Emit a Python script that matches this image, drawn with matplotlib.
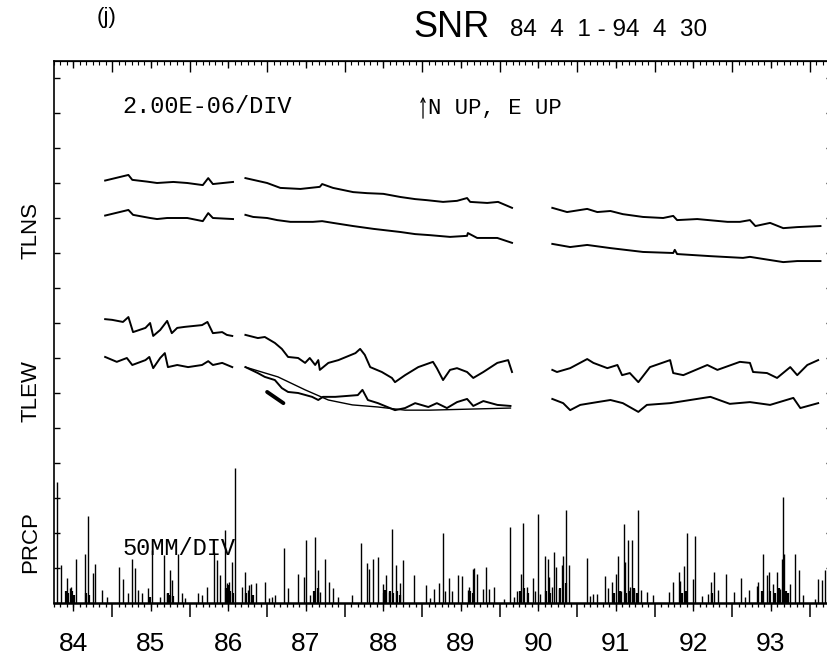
import numpy as np
import matplotlib
matplotlib.use("Agg")
import matplotlib.pyplot as plt
from matplotlib.ticker import MultipleLocator

plt.rcParams['font.family'] = ['Liberation Sans', 'DejaVu Sans']

GAP = float("nan")

# time in decimal years, tilt in plot divisions (1 div = 2.00E-06), rain in mm
tlns1_t = [1984.91, 1985.21, 1985.26, 1985.45, 1985.58, 1985.79, 1985.97, 1986.17, 1986.24, 1986.30, 1986.43, 1986.56, GAP,
           1986.72, 1986.82, 1987.00, 1987.17, 1987.43, 1987.68, 1987.71, 1987.85, 1988.11, 1988.29, 1988.50, 1988.72,
           1988.91, 1989.06, 1989.27, 1989.45, 1989.58, 1989.62, 1989.84, 1989.98, 1990.16, GAP,
           1990.68, 1990.87, 1991.13, 1991.26, 1991.43, 1991.59, 1991.85, 1992.11, 1992.24, 1992.29, 1992.55, 1992.94,
           1993.10, 1993.23, 1993.30, 1993.49, 1993.66, 1993.84, 1994.14]
tlns1_v = [12.07, 12.23, 12.09, 12.04, 12.00, 12.03, 12.00, 11.94, 12.14, 11.97, 12.00, 12.03, GAP,
           12.14, 12.09, 12.00, 11.86, 11.83, 11.89, 11.97, 11.86, 11.74, 11.71, 11.69, 11.60,
           11.54, 11.51, 11.46, 11.49, 11.57, 11.46, 11.43, 11.46, 11.29, GAP,
           11.29, 11.17, 11.26, 11.17, 11.20, 11.11, 11.03, 11.00, 11.06, 10.94, 10.97, 10.89,
           10.89, 10.94, 10.77, 10.86, 10.71, 10.74, 10.77]

tlns2_t = [1984.91, 1985.21, 1985.27, 1985.49, 1985.58, 1985.71, 1985.97, 1986.17, 1986.24, 1986.30, 1986.56, GAP,
           1986.72, 1986.82, 1987.00, 1987.13, 1987.30, 1987.59, 1987.71, 1987.85, 1988.11, 1988.37, 1988.72, 1988.91,
           1989.10, 1989.36, 1989.58, 1989.59, 1989.71, 1989.97, 1990.16, GAP,
           1990.68, 1990.91, 1991.13, 1991.43, 1991.85, 1992.24, 1992.26, 1992.29, 1992.72, 1993.14, 1993.23, 1993.40,
           1993.66, 1993.84, 1994.14]
tlns2_v = [11.07, 11.23, 11.09, 11.00, 10.97, 11.00, 11.00, 10.91, 11.14, 11.00, 10.97, GAP,
           11.09, 11.03, 11.00, 10.94, 10.89, 10.89, 10.91, 10.86, 10.77, 10.69, 10.60, 10.54,
           10.51, 10.46, 10.49, 10.57, 10.43, 10.43, 10.29, GAP,
           10.26, 10.17, 10.23, 10.14, 10.03, 10.00, 10.09, 9.97, 9.91, 9.86, 9.89, 9.83,
           9.74, 9.77, 9.77]

tlew1_t = [1984.91, 1985.00, 1985.14, 1985.21, 1985.27, 1985.43, 1985.49, 1985.53, 1985.62, 1985.71, 1985.77, 1985.84,
           1985.94, 1986.16, 1986.23, 1986.30, 1986.42, 1986.48, 1986.55, GAP,
           1986.72, 1986.88, 1986.97, 1987.10, 1987.19, 1987.27, 1987.40, 1987.49, 1987.55, 1987.62, 1987.66, 1987.68,
           1987.79, 1987.92, 1988.14, 1988.20, 1988.26, 1988.33, 1988.48, 1988.61, 1988.65, 1988.78, 1988.95, 1989.14,
           1989.19, 1989.27, 1989.36, 1989.45, 1989.58, 1989.66, 1989.79, 1989.97, 1990.11, 1990.16, GAP,
           1990.68, 1990.74, 1990.91, 1991.13, 1991.21, 1991.39, 1991.52, 1991.58, 1991.68, 1991.79, 1991.94, 1992.20,
           1992.24, 1992.37, 1992.68, 1992.81, 1993.10, 1993.23, 1993.27, 1993.45, 1993.58, 1993.75, 1993.84, 1993.97,
           1994.11]
tlew1_v = [8.11, 8.09, 8.03, 8.17, 7.74, 7.86, 8.00, 7.63, 7.80, 8.06, 7.71, 7.86,
           7.89, 7.94, 8.03, 7.71, 7.74, 7.66, 7.63, GAP,
           7.66, 7.57, 7.60, 7.43, 7.26, 7.03, 7.00, 6.86, 7.00, 6.80, 6.94, 6.66,
           6.86, 6.94, 7.14, 7.26, 7.09, 6.74, 6.60, 6.43, 6.31, 6.51, 6.74, 6.89,
           6.71, 6.37, 6.66, 6.71, 6.60, 6.43, 6.60, 6.86, 6.94, 6.60, GAP,
           6.66, 6.60, 6.71, 6.97, 6.86, 6.71, 6.80, 6.51, 6.57, 6.31, 6.74, 6.94,
           6.57, 6.51, 6.80, 6.66, 6.89, 6.86, 6.60, 6.57, 6.43, 6.74, 6.51, 6.80,
           6.94]

tlew2_t = [1984.91, 1985.06, 1985.19, 1985.26, 1985.43, 1985.48, 1985.53, 1985.62, 1985.68, 1985.72, 1985.84, 1985.98,
           1986.16, 1986.24, 1986.30, 1986.42, 1986.55, GAP,
           1986.72, 1986.88, 1986.97, 1987.10, 1987.19, 1987.27, 1987.40, 1987.58, 1987.66, 1987.72, 1987.88, 1988.17,
           1988.23, 1988.30, 1988.43, 1988.65, 1988.78, 1988.91, 1989.08, 1989.19, 1989.32, 1989.45, 1989.58, 1989.66,
           1989.79, 1989.97, 1990.14, GAP,
           1990.68, 1990.82, 1990.91, 1991.04, 1991.26, 1991.43, 1991.59, 1991.79, 1991.90, 1992.20, 1992.46, 1992.72,
           1992.97, 1993.23, 1993.49, 1993.79, 1993.88, 1994.11]
tlew2_v = [7.03, 6.89, 7.00, 6.80, 6.94, 7.03, 6.71, 7.00, 7.14, 6.74, 6.80, 6.74,
           6.80, 6.91, 6.80, 6.86, 6.74, GAP,
           6.74, 6.57, 6.46, 6.37, 6.14, 6.03, 6.00, 5.89, 5.80, 5.89, 5.89, 5.94,
           6.09, 5.80, 5.71, 5.51, 5.57, 5.71, 5.60, 5.71, 5.57, 5.74, 5.83, 5.63,
           5.77, 5.66, 5.63, GAP,
           5.83, 5.71, 5.51, 5.66, 5.74, 5.80, 5.71, 5.46, 5.66, 5.71, 5.80, 5.89,
           5.69, 5.74, 5.66, 5.86, 5.57, 5.71]

# smooth trend drawn over the EW record 86-90, and the short heavy stroke
ewfit_t = [1986.72, 1987.14, 1987.49, 1987.79, 1988.10, 1988.43, 1988.78, 1989.10, 1990.14]
ewfit_v = [6.74, 6.46, 6.09, 5.80, 5.66, 5.60, 5.51, 5.51, 5.57]
ewdash_t = [1987.00, 1987.21]
ewdash_v = [6.03, 5.71]

prcp_t = [1984.29, 1984.34, 1984.42, 1984.45, 1984.47, 1984.54, 1984.65, 1984.69, 1984.75, 1984.78, 1984.87, 1984.93,
          1985.09, 1985.14, 1985.20, 1985.25, 1985.30, 1985.34, 1985.39, 1985.46, 1985.51, 1985.62, 1985.67, 1985.71,
          1985.75, 1985.77, 1985.85, 1985.90, 1985.94, 1986.11, 1986.16, 1986.22, 1986.31, 1986.35, 1986.39, 1986.45,
          1986.48, 1986.51, 1986.55, 1986.59, 1986.67, 1986.71, 1986.75, 1986.77, 1986.79, 1986.85, 1986.97, 1987.03,
          1987.06, 1987.10, 1987.22, 1987.27, 1987.40, 1987.47, 1987.50, 1987.55, 1987.62, 1987.65, 1987.68, 1987.75,
          1987.80, 1987.85, 1987.91, 1988.09, 1988.21, 1988.29, 1988.32, 1988.36, 1988.43, 1988.49, 1988.54, 1988.57,
          1988.61, 1988.66, 1988.71, 1988.75, 1988.89, 1989.05, 1989.10, 1989.15, 1989.22, 1989.27, 1989.30, 1989.35,
          1989.39, 1989.46, 1989.51, 1989.59, 1989.61, 1989.65, 1989.67, 1989.71, 1989.78, 1989.82, 1989.86, 1989.93,
          1990.06, 1990.13, 1990.18, 1990.23, 1990.28, 1990.30, 1990.35, 1990.43, 1990.45, 1990.49, 1990.52, 1990.59,
          1990.62, 1990.64, 1990.68, 1990.70, 1990.73, 1990.76, 1990.80, 1990.82, 1990.85, 1990.90, 1991.13, 1991.17,
          1991.21, 1991.25, 1991.36, 1991.40, 1991.45, 1991.50, 1991.53, 1991.57, 1991.60, 1991.62, 1991.65, 1991.68,
          1991.71, 1991.73, 1991.78, 1991.83, 1991.90, 1991.98, 1992.19, 1992.24, 1992.31, 1992.33, 1992.38, 1992.42,
          1992.49, 1992.52, 1992.61, 1992.69, 1992.73, 1992.76, 1992.82, 1992.92, 1993.03, 1993.12, 1993.17, 1993.22,
          1993.32, 1993.34, 1993.40, 1993.45, 1993.47, 1993.53, 1993.58, 1993.62, 1993.64, 1993.66, 1993.67, 1993.75,
          1993.81, 1993.86, 1993.91, 1994.07, 1994.11, 1994.16, 1994.20]
prcp_mm = [173, 54, 36, 21, 23, 63, 70, 124, 43, 56, 19, 9,
           51, 34, 14, 63, 50, 19, 14, 21, 76, 9, 69, 14,
           47, 33, 70, 14, 7, 14, 11, 23, 73, 61, 40, 104,
           29, 30, 59, 193, 23, 44, 19, 26, 27, 29, 30, 7,
           9, 11, 79, 21, 41, 37, 90, 11, 94, 47, 16, 63,
           30, 21, 9, 11, 86, 57, 49, 63, 66, 27, 40, 16,
           106, 54, 29, 61, 40, 26, 7, 20, 29, 100, 17, 36,
           17, 40, 39, 19, 23, 49, 50, 41, 20, 51, 20, 23,
           6, 109, 9, 17, 41, 114, 23, 36, 17, 127, 13, 67,
           63, 37, 23, 73, 51, 20, 54, 67, 133, 54, 64, 10,
           13, 13, 39, 21, 30, 41, 67, 17, 113, 59, 90, 23,
           90, 20, 133, 19, 16, 11, 16, 30, 44, 31, 53, 100,
           34, 96, 10, 13, 30, 44, 19, 41, 16, 36, 9, 19,
           24, 30, 70, 40, 44, 27, 44, 20, 63, 152, 70, 27,
           70, 47, 11, 6, 34, 33, 47]

# light rain days that form the dark clumps along the base line
drizzle_t = [1984.41, 1984.43, 1984.48, 1984.51, 1984.66, 1984.70, 1985.49, 1985.72, 1985.74, 1985.79,
             1986.47, 1986.50, 1986.52, 1986.56, 1986.73, 1986.82, 1987.61, 1987.66, 1988.51, 1988.52,
             1988.59, 1988.63, 1988.68, 1988.72, 1989.62, 1989.66, 1990.26, 1990.32, 1990.36, 1990.60,
             1990.65, 1990.78, 1990.86, 1991.48, 1991.55, 1991.63, 1991.67, 1991.74, 1991.77, 1992.35,
             1992.41, 1992.74, 1993.39, 1993.49, 1993.55, 1993.61, 1993.70, 1993.72]
drizzle_mm = [17, 14, 17, 11, 14, 11, 9, 14, 11, 10,
              21, 26, 17, 14, 14, 11, 17, 21, 14, 19,
              17, 14, 17, 11, 17, 14, 17, 21, 14, 17,
              14, 21, 29, 14, 17, 14, 17, 21, 14, 14,
              17, 14, 17, 17, 14, 21, 17, 14]

years = list(range(1984, 1994))
year_labels = [str(y % 100) for y in years]

W, H = 827, 670
fig = plt.figure(figsize=(W / 100, H / 100), dpi=100)
ax = fig.add_axes([54 / W, 67 / H, (832 - 54) / W, (609 - 67) / H])
ax.set_xlim(1984.25, 1984.25 + 778 / 77.5)
ax.set_ylim(0, 542 / 35)

for t, v in [(tlns1_t, tlns1_v), (tlns2_t, tlns2_v), (tlew1_t, tlew1_v), (tlew2_t, tlew2_v)]:
    ax.plot(t, v, color='k', lw=1.4, solid_joinstyle='round')
ax.plot(ewfit_t, ewfit_v, color='k', lw=1.0)
ax.plot(ewdash_t, ewdash_v, color='k', lw=2.8, solid_capstyle='round')
ax.vlines(prcp_t, 0, np.array(prcp_mm) / 50.0, color='k', lw=1.0)
ax.vlines(drizzle_t, 0, np.array(drizzle_mm) / 50.0, color='k', lw=1.6)

for s in ax.spines.values():
    s.set_linewidth(1.2)
ax.spines['bottom'].set_linewidth(1.8)

# bottom: years long, months short
ax.xaxis.set_major_locator(MultipleLocator(1))
ax.xaxis.set_minor_locator(MultipleLocator(1 / 12))
ax.tick_params(axis='x', which='major', direction='out', length=10, width=1.1, labelbottom=False)
ax.tick_params(axis='x', which='minor', direction='out', length=3, width=0.9)
ax.yaxis.set_major_locator(MultipleLocator(1))
ax.tick_params(axis='y', which='major', direction='in', length=4.5, width=1.0,
               left=True, right=True, labelleft=False)

# half-year ticks carry the year labels
half = [y + 0.5 for y in years]
sb = ax.secondary_xaxis('bottom')
sb.set_xticks(half, labels=year_labels)
sb.tick_params(direction='out', length=6, width=1.0, pad=15, labelsize=19)
sb.spines['bottom'].set_visible(False)

st = ax.secondary_xaxis('top')
st.xaxis.set_major_locator(MultipleLocator(1))
st.xaxis.set_minor_locator(MultipleLocator(1 / 12))
st.tick_params(which='major', direction='in', length=8, width=1.0, labeltop=False)
st.tick_params(which='minor', direction='in', length=3, width=0.8)
st2 = ax.secondary_xaxis('top')
st2.set_xticks(half)
st2.tick_params(direction='in', length=5, width=1.0, labeltop=False)

def fx(px):
    return px / W

def fy(py):
    return 1 - py / H

fig.text(fx(107), fy(17), "(j)", ha='center', va='center', fontsize=16)
fig.text(fx(413), fy(37), "SNR", ha='left', va='baseline', fontsize=26)
fig.text(fx(510), fy(36), "84  4  1 - 94  4  30", ha='left', va='baseline', fontsize=17.5)

mono = ['Liberation Mono', 'DejaVu Sans Mono']
fig.text(fx(122), fy(113), "2.00E-06/DIV", ha='left', va='baseline', fontsize=17, family=mono)
fig.text(fx(428), fy(114), "N UP, E UP", ha='left', va='baseline', fontsize=16, family=mono)
fig.text(fx(122), fy(555), "50MM/DIV", ha='left', va='baseline', fontsize=17, family=mono)
fig.add_artist(matplotlib.patches.FancyArrowPatch((fx(423), fy(121)), (fx(423), fy(94)),
                                                   transform=fig.transFigure, arrowstyle='->,head_length=3,head_width=1.5',
                                                   lw=0.9, color='k'))

for name, yc in [("TLNS", 231), ("TLEW", 391), ("PRCP", 542)]:
    fig.text(fx(31), fy(yc), name, rotation=90, ha='center', va='center', fontsize=16)

fig.savefig("out.png", dpi=100)
